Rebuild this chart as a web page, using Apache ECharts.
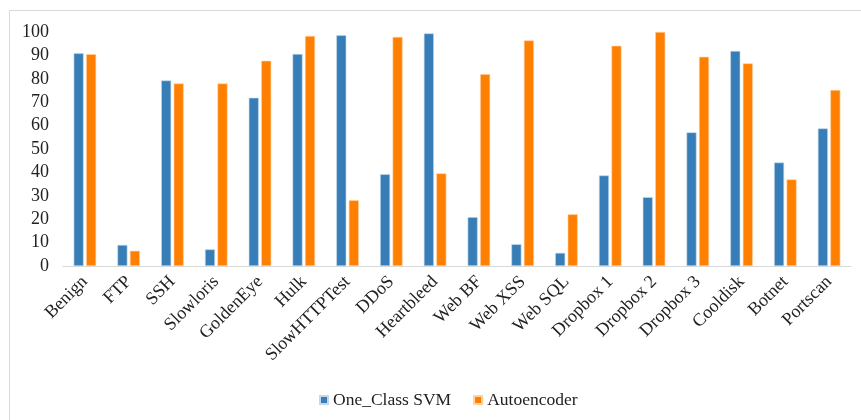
<!DOCTYPE html>
<html>
<head>
<meta charset="utf-8">
<script src="https://cdn.jsdelivr.net/npm/echarts@6/dist/echarts.min.js"></script>
<style>
  html, body { margin: 0; padding: 0; background: #fff; }
  #chart { width: 861px; height: 420px; }
</style>
</head>
<body>
<div id="chart"></div>
<script>
// 类别
var categories = ['Benign', 'FTP', 'SSH', 'Slowloris', 'GoldenEye', 'Hulk', 'SlowHTTPTest', 'DDoS',
    'Heartbleed', 'Web BF', 'Web XSS', 'Web SQL', 'Dropbox 1', 'Dropbox 2', 'Dropbox 3',
    'Cooldisk', 'Botnet', 'Portscan'];
// One_Class SVM
var svmValues = [90.9, 9.0, 79.3, 7.1, 71.9, 90.6, 98.6, 39.2, 99.4, 20.9, 9.3, 5.6, 38.7, 29.4, 57.1, 91.9, 44.2, 58.8];
// Autoencoder
var aeValues = [90.5, 6.5, 78.0, 78.0, 87.7, 98.3, 28.1, 97.9, 39.6, 82.0, 96.4, 22.1, 94.1, 100.0, 89.4, 86.6, 37.0, 75.2];

var serifFont = '"Liberation Serif", "Times New Roman", serif';

var myChart = echarts.init(document.getElementById('chart'));
var option = {
    animation: false,
    // 外框
    graphic: [{
        type: 'rect',
        shape: { x: 9.5, y: 10.5, width: 900, height: 500 },
        style: { fill: 'none', stroke: '#d9d9d9', lineWidth: 1 },
        silent: true
    }],
    grid: {
        left: 63,
        right: 10,
        top: 32,
        bottom: 154
    },
    legend: {
        top: 386,
        left: 314,
        itemWidth: 8,
        itemHeight: 8,
        itemGap: 22,
        icon: 'rect',
        textStyle: { fontFamily: serifFont, fontSize: 17.5, color: '#222' },
        data: ['One_Class SVM', 'Autoencoder']
    },
    xAxis: {
        type: 'category',
        data: categories,
        axisLine: { lineStyle: { color: '#d9d9d9', width: 1 } },
        axisTick: { show: false },
        axisLabel: {
            rotate: 45,
            interval: 0,
            margin: 13,
            fontFamily: serifFont,
            fontSize: 18,
            color: '#222'
        }
    },
    yAxis: {
        type: 'value',
        min: 0,
        max: 100,
        interval: 10,
        axisLine: { show: false },
        axisTick: { show: false },
        splitLine: { show: false },
        axisLabel: {
            margin: 14,
            fontFamily: serifFont,
            fontSize: 18,
            color: '#222'
        }
    },
    series: [{
        name: 'One_Class SVM',
        type: 'bar',
        data: svmValues,
        barWidth: 10,
        barGap: '25%',
        itemStyle: { color: '#377eb8', borderColor: '#c5d8ea', borderWidth: 0.6 }
    }, {
        name: 'Autoencoder',
        type: 'bar',
        data: aeValues,
        barWidth: 10,
        barGap: '25%',
        itemStyle: { color: '#ff7f00', borderColor: '#ffd0a0', borderWidth: 0.6 }
    }]
};
myChart.setOption(option);
</script>
</body>
</html>
